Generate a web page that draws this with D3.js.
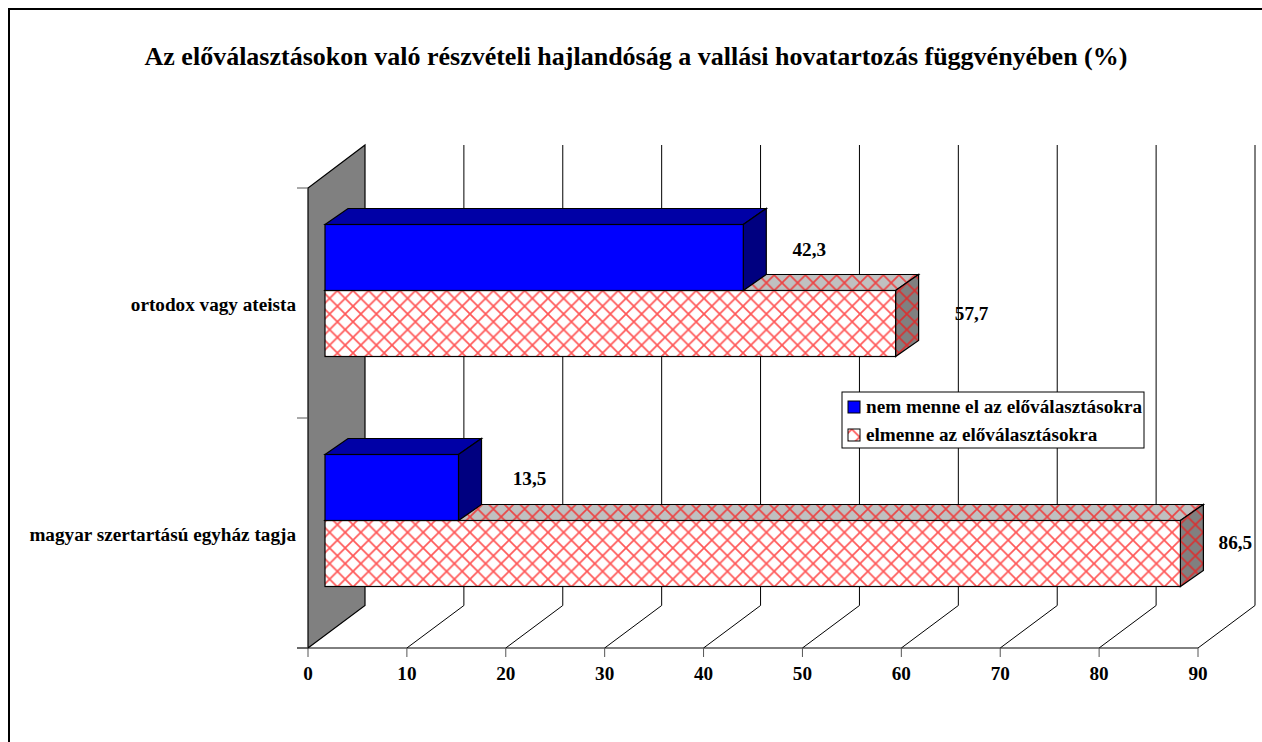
<!DOCTYPE html>
<html>
<head>
<meta charset="utf-8">
<script src="https://cdn.jsdelivr.net/npm/d3@7"></script>
<style>
  html, body { margin: 0; padding: 0; background: #fff; overflow: hidden; }
  text { font-family: "Liberation Serif", serif; font-weight: bold; fill: #000; }
</style>
</head>
<body>
<div id="chart"></div>
<script>
// --- Data ---
const title = "Az előválasztásokon való részvételi hajlandóság a vallási hovatartozás függvényében (%)";
const categories = ["ortodox vagy ateista", "magyar szertartású egyház tagja"];
const seriesNames = ["nem menne el az előválasztásokra", "elmenne az előválasztásokra"];
const notGoing = [42.3, 13.5];
const going = [57.7, 86.5];
const xTicks = [0, 10, 20, 30, 40, 50, 60, 70, 80, 90];

// --- Layout ---
const W = 1262, H = 742;
const floorDepth = { dx: 57, dy: -42.5 };   // depth of the 3D box
const barInset = { dx: 17, dy: -12.5 };     // bars sit part way into the box
const barDepth = { dx: 23, dy: -16 };
const wallTop = 145;
const barHeight = 66;
const fontSize = "19.2px";

const x = d3.scaleLinear().domain([0, 90]).range([308, 1198]);
const y = d3.scaleBand().domain(categories).range([188, 648]);

const svg = d3.select("#chart").append("svg")
  .attr("width", W).attr("height", H)
  .style("display", "block");

// Hachures
const defs = svg.append("defs");
const hatch = (id, bg) => {
  const s = 15.6;
  const p = defs.append("pattern").attr("id", id)
    .attr("patternUnits", "userSpaceOnUse")
    .attr("patternTransform", "translate(2,2)")
    .attr("width", s).attr("height", s);
  p.append("rect").attr("width", s).attr("height", s).attr("fill", bg);
  p.append("path")
    .attr("d", `M0,0L${s},${s}M${s},0L0,${s}`)
    .attr("stroke", "#ff1010").attr("stroke-opacity", 0.7).attr("stroke-width", 1.7);
};
hatch("hatchFront", "#fff");
hatch("hatchTop", "#c0c0c0");
hatch("hatchSide", "#808080");

// Cadre
svg.append("path")
  .attr("d", `M9,${H}V9H${W}`)
  .attr("fill", "none").attr("stroke", "#000").attr("stroke-width", 2);

// Titre
svg.append("text")
  .attr("x", 636).attr("y", 65)
  .attr("text-anchor", "middle")
  .style("font-size", "26px")
  .text(title);

// Mur gauche
const x0 = x(0), floorY = y.range()[1], topY = y.range()[0];
svg.append("path")
  .attr("d", `M${x0},${floorY}L${x0 + floorDepth.dx},${floorY + floorDepth.dy}V${wallTop}L${x0},${topY}Z`)
  .attr("fill", "#808080").attr("stroke", "#000").attr("stroke-width", 1.2);

// Grille et sol
svg.append("g").selectAll("path")
  .data(xTicks.slice(1))
  .join("path")
  .attr("d", d => `M${x(d)},${floorY}L${x(d) + floorDepth.dx},${floorY + floorDepth.dy}V${wallTop}`)
  .attr("fill", "none").attr("stroke", "#000").attr("stroke-width", 1);

// Axe X
svg.append("line")
  .attr("x1", x0 - 11).attr("x2", x(90))
  .attr("y1", floorY).attr("y2", floorY)
  .attr("stroke", "#000").attr("stroke-width", 1);
svg.append("g").selectAll("line")
  .data(xTicks)
  .join("line")
  .attr("x1", d => x(d)).attr("x2", d => x(d))
  .attr("y1", floorY).attr("y2", floorY + 9)
  .attr("stroke", "#555").attr("stroke-width", 1);
svg.append("g").selectAll("text")
  .data(xTicks)
  .join("text")
  .attr("x", d => x(d)).attr("y", floorY + 32)
  .attr("text-anchor", "middle")
  .style("font-size", fontSize)
  .text(d => d);

// Axe Y
const yTickPos = [topY, topY + y.bandwidth(), floorY];
svg.append("g").selectAll("line")
  .data(yTickPos)
  .join("line")
  .attr("x1", x0 - 11).attr("x2", x0)
  .attr("y1", d => d).attr("y2", d => d)
  .attr("stroke", "#555").attr("stroke-width", 1);
svg.append("g").selectAll("text")
  .data(categories)
  .join("text")
  .attr("x", 296)
  .attr("y", d => y(d) + y.bandwidth() / 2 + barInset.dy + 20)
  .attr("text-anchor", "end")
  .style("font-size", fontSize)
  .text(d => d);

// Barres 3D
function bar3d(cat, value, row, fills) {
  const left = x0 + barInset.dx;
  const right = x(value) + barInset.dx;
  const top = y(cat) + (y.bandwidth() - 2 * barHeight) / 2 + barInset.dy + row * barHeight;
  const bottom = top + barHeight;
  const g = svg.append("g").attr("stroke", "#000").attr("stroke-width", 1.2);
  g.append("path")
    .attr("d", `M${left},${top}L${left + barDepth.dx},${top + barDepth.dy}H${right + barDepth.dx}L${right},${top}Z`)
    .attr("fill", fills.top);
  g.append("path")
    .attr("d", `M${right},${top}L${right + barDepth.dx},${top + barDepth.dy}V${bottom + barDepth.dy}L${right},${bottom}Z`)
    .attr("fill", fills.side);
  g.append("rect")
    .attr("x", left).attr("y", top)
    .attr("width", right - left).attr("height", barHeight)
    .attr("fill", fills.front);
}

const blueFills = { front: "#0000ff", top: "#0000a6", side: "#000080" };
const hatchFills = { front: "url(#hatchFront)", top: "url(#hatchTop)", side: "url(#hatchSide)" };

categories.forEach((c, i) => {
  bar3d(c, going[i], 1, hatchFills);
  bar3d(c, notGoing[i], 0, blueFills);
});

// Étiquettes de valeurs (décalage propre à chaque étiquette, comme dans l'original)
const labelSpots = [
  { v: notGoing[0], cat: 0, row: 0, dx: 83, dy: -35 }, { v: going[0], cat: 0, row: 1, dx: 93, dy: 29 },
  { v: notGoing[1], cat: 1, row: 0, dx: 88, dy: -36 }, { v: going[1], cat: 1, row: 1, dx: 72, dy: 28.5 }
];
svg.append("g").selectAll("text")
  .data(labelSpots)
  .join("text")
  .attr("x", d => x(d.v) + d.dx)
  .attr("y", d => y(categories[d.cat]) + y.bandwidth() / 2 + barInset.dy + d.dy)
  .attr("text-anchor", "middle")
  .style("font-size", fontSize)
  .text(d => d3.format(".1f")(d.v).replace(".", ","));

// Légende
const legend = svg.append("g").attr("transform", "translate(842,392)");
legend.append("rect")
  .attr("width", 302).attr("height", 56)
  .attr("fill", "#fff").attr("stroke", "#000").attr("stroke-width", 1);
const legendRow = legend.selectAll(".row")
  .data(seriesNames)
  .join("g")
  .attr("transform", (d, i) => `translate(0,${15 + i * 28})`);
legendRow.append("rect")
  .attr("x", 6).attr("y", -6)
  .attr("width", 12).attr("height", 12)
  .attr("stroke", "#000").attr("stroke-width", 1)
  .attr("fill", (d, i) => i ? "url(#hatchFront)" : "#0000ff");
legendRow.append("text")
  .attr("x", 24).attr("y", 6)
  .style("font-size", fontSize)
  .text(d => d);
</script>
</body>
</html>
